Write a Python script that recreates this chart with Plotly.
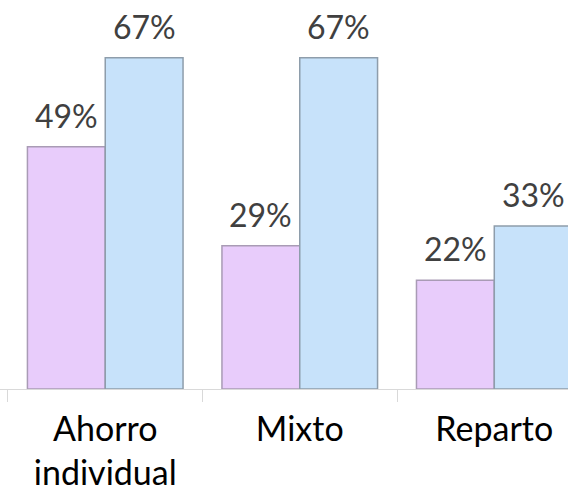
import plotly.graph_objects as go

categories = ["Ahorro<br>individual", "Mixto", "Reparto"]
serie_a = [49, 29, 22]
serie_b = [67, 67, 33]
labels_a = [f"{v}%" for v in serie_a]
labels_b = [f"{v}%" for v in serie_b]

font_family = "Lato, 'Open Sans', sans-serif"
text_color = "#404040"
bargap = 0.2
cat_px = 194.5
half_bar_px = cat_px * (1 - bargap) / 4

fig = go.Figure()
fig.add_trace(go.Bar(
    x=categories, y=serie_a,
    marker=dict(color="#E8CCFB", line=dict(color="#A99BB5", width=1.5)),
    showlegend=False, hoverinfo="skip",
))
fig.add_trace(go.Bar(
    x=categories, y=serie_b,
    marker=dict(color="#C7E2FA", line=dict(color="#8E9DAB", width=1.5)),
    showlegend=False, hoverinfo="skip",
))

annotations = []
for cat, va, vb, la, lb in zip(categories, serie_a, serie_b, labels_a, labels_b):
    for v, lab, sh in ((va, la, -half_bar_px), (vb, lb, half_bar_px)):
        annotations.append(dict(
            x=cat, y=v, text=lab, showarrow=False, xref="x", yref="y",
            xanchor="center", yanchor="bottom", xshift=sh, yshift=10,
            font=dict(size=32, color=text_color, family=font_family),
        ))

fig.update_layout(
    width=568, height=496,
    margin=dict(l=0, r=0, t=0, b=107),
    paper_bgcolor="white", plot_bgcolor="white",
    barmode="group", bargap=bargap, bargroupgap=0,
    font=dict(family=font_family, color=text_color),
    annotations=annotations,
)
fig.update_xaxes(
    range=[-0.541, 2.379], automargin=False,
    showline=True, linecolor="#D9D9D9", linewidth=1,
    ticks="outside", tickson="boundaries", ticklen=12, tickcolor="#D9D9D9",
    ticklabelstandoff=10,
    tickfont=dict(size=34, color="#000000", family=font_family),
    showgrid=False,
)
fig.update_yaxes(range=[0, 78.7], visible=False, showgrid=False, automargin=False)

fig.write_html("out.html", config={"displayModeBar": False},
               post_script="document.body.style.margin='0';")
